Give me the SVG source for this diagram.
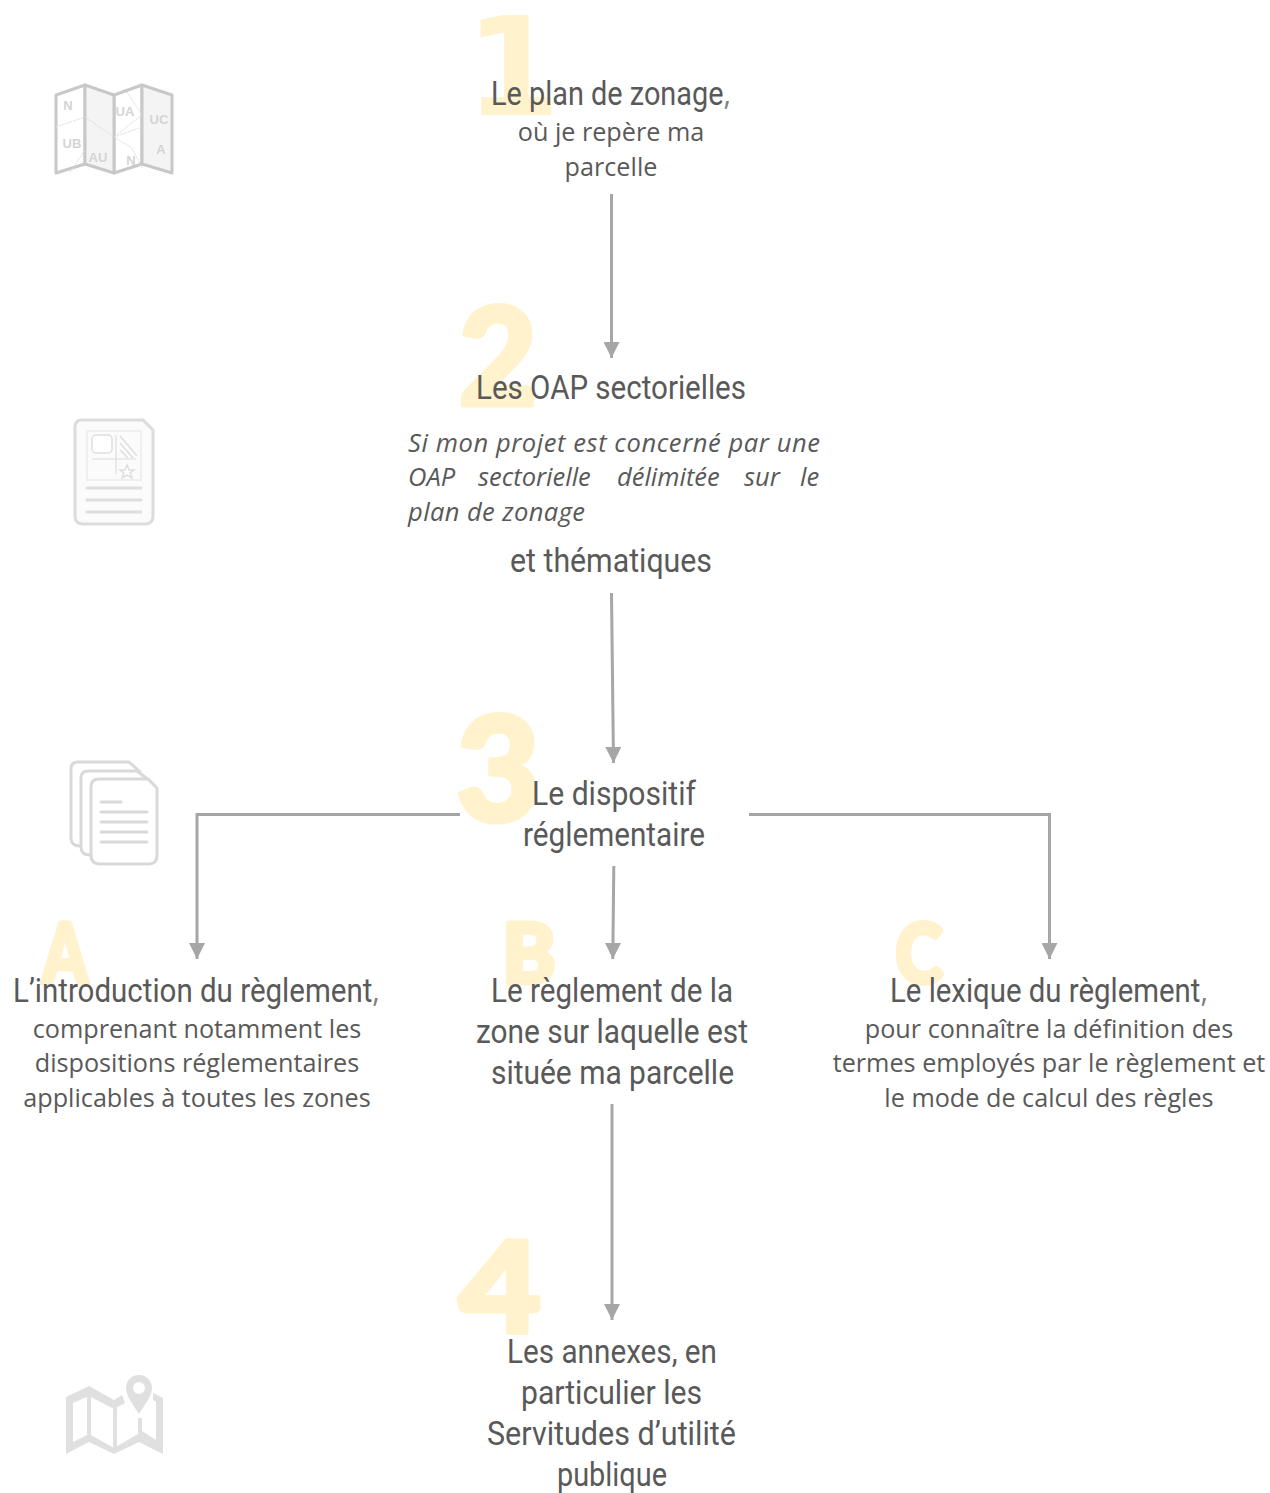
<svg xmlns="http://www.w3.org/2000/svg" width="1270" height="1493" viewBox="0 0 1270 1493">
<defs>
<style>
.h{font-family:"Roboto","Liberation Sans",sans-serif;font-size:33px;fill:#595959}
.cm{font-family:"Open Sans","Liberation Sans",sans-serif;fill:#7F7F7F}
.b{font-family:"Open Sans","Liberation Sans",sans-serif;font-size:25.200px;fill:#595959;text-anchor:middle}
.i{font-family:"Open Sans","Liberation Sans",sans-serif;font-size:25.500px;font-style:italic;fill:#595959}
.n{font-family:"Lato","Open Sans",sans-serif;font-weight:900;fill:#FFF2CC;stroke:#FFF2CC;stroke-width:5px;stroke-linejoin:round}
.m{text-anchor:middle}
.conn{fill:none;stroke:#A6A6A6;stroke-width:3}
.ic{fill:none;stroke:#D9D9D9;stroke-width:3;stroke-linejoin:round;stroke-linecap:round}
.it{font-family:"Liberation Sans",sans-serif;font-weight:700;font-size:13px;fill:#D4D4D4;text-anchor:middle}
</style>
<marker id="arr" markerUnits="userSpaceOnUse" markerWidth="16" markerHeight="16" refX="16" refY="8" orient="auto"><path d="M0 0L16 8L0 16Z" fill="#A6A6A6"/></marker>
</defs>
<rect width="1270" height="1493" fill="#fff"/>
<g id="connectors">
<path class="conn" marker-end="url(#arr)" d="M611.500 194V358"/>
<path class="conn" marker-end="url(#arr)" d="M611.500 593L613.500 763"/>
<path class="conn" marker-end="url(#arr)" d="M460 814.500H197V959"/>
<path class="conn" marker-end="url(#arr)" d="M749 814.500H1049.500V959"/>
<path class="conn" marker-end="url(#arr)" d="M613.800 866L612.800 959"/>
<path class="conn" marker-end="url(#arr)" d="M612 1104V1320"/>
</g>
<g id="icon-plan">
<path d="M56 95L85 85V164L56 173Z M114 95L142 85V164L114 173Z" fill="#fff" stroke="#C8C8C8" stroke-width="3" stroke-linejoin="round"/>
<path d="M85 85L114 95V173L85 164Z M142 85L172 95V173L142 164Z" fill="#F4F4F4" stroke="#C8C8C8" stroke-width="3" stroke-linejoin="round"/>
<path d="M56 127L85 117L114 137L142 127M114 137L132 148L142 168M127 92L142 115L114 137M70 172L85 150" fill="none" stroke="#DDD" stroke-width="1" stroke-dasharray="2 1"/>
<text class="it" x="68" y="110">N</text><text class="it" x="72" y="148">UB</text><text class="it" x="98" y="162">AU</text><text class="it" x="125" y="116">UA</text><text class="it" x="159" y="124">UC</text><text class="it" x="161" y="154">A</text><text class="it" x="131" y="165">N</text>
</g>
<g id="icon-oap">
<path d="M82 420H143L153 430V516Q153 524 145 524H83Q75 524 75 516V427Q75 420 82 420Z" fill="#FBFBFB" stroke="#DCDCDC" stroke-width="3"/>
<rect x="87" y="431" width="54" height="49" fill="none" stroke="#EBEBEB" stroke-width="1.500"/>
<rect x="92" y="435" width="20" height="18" rx="4" fill="#fff" stroke="#DEDEDE" stroke-width="1.500"/>
<path d="M120 436L137 456M120 443L133 458M120 450L128 458" stroke="#DEDEDE" stroke-width="1.500" fill="none"/>
<path d="M92 459H136M116 435V474" stroke="#DEDEDE" stroke-width="1.200" fill="none"/>
<path d="M127 465L129 470L134 470L130 473L132 478L127 475L122 478L124 473L120 470L125 470Z" fill="#fff" stroke="#DEDEDE" stroke-width="1.500"/>
<path d="M87 488H141M87 500H141M87 512H141" stroke="#DEDEDE" stroke-width="3" stroke-linecap="round" fill="none"/>
</g>
<g id="icon-dispositif">
<path class="ic" d="M80 846Q71 846 71 838V769Q71 762 78 762H129L140 772"/>
<path class="ic" d="M90 855Q81 855 81 847V778Q81 771 88 771H137L150 781"/>
<path d="M99 779H148L157 788V855Q157 864 149 864H100Q91 864 91 855V787Q91 779 99 779Z" fill="#fff" stroke="#D9D9D9" stroke-width="3"/>
<path class="ic" d="M101 802H121M101 812H147M101 822H147M101 832H147M101 842H147"/>
</g>
<g id="icon-annexes">
<path d="M66 1397L89 1386L114 1400L122 1395L125 1403L114 1409L89 1396L73 1403V1442L89 1434L114 1448L138 1434V1418H142V1431L156 1440V1402L153 1400V1393L163 1398V1454L139 1442L114 1454L89 1442L66 1454Z" fill="#E0E0E0"/>
<path d="M87 1394H91V1436H87ZM113 1406H117V1448H113Z" fill="#E0E0E0"/>
<path fill-rule="evenodd" d="M139 1375C131 1375 126 1381 126 1388C126 1396 134 1406 139 1414C144 1406 152 1396 152 1388C152 1381 147 1375 139 1375ZM139 1382A6 6 0 1 1 139 1394A6 6 0 1 1 139 1382Z" fill="#E0E0E0"/>
</g>
<g id="node-1">
<text x="513" y="115" font-size="137" text-anchor="middle" font-family="DejaVu Sans, sans-serif" font-weight="700" fill="#FFF2CC">1</text>
<text class="h" x="491" y="105" textLength="240" lengthAdjust="spacingAndGlyphs">Le plan de zonage<tspan class="cm">,</tspan></text>
<text class="b" x="611" y="140.500">où je repère ma</text>
<text class="b" x="611" y="175.500">parcelle</text>
</g>
<g id="node-2">
<text class="n m" x="498" y="405" font-size="135">2</text>
<text class="h" x="476" y="399" textLength="270" lengthAdjust="spacingAndGlyphs">Les OAP sectorielles</text>
<text class="i" x="408" y="452" textLength="412" lengthAdjust="spacing">Si mon projet est concerné par une</text>
<text class="i" y="486"><tspan x="408">OAP</tspan><tspan x="478">sectorielle</tspan><tspan x="617">délimitée</tspan><tspan x="744">sur</tspan><tspan x="800">le</tspan></text>
<text class="i" x="408" y="521" textLength="177" lengthAdjust="spacing">plan de zonage</text>
<text class="h" x="510" y="572" textLength="202" lengthAdjust="spacingAndGlyphs">et thématiques</text>
</g>
<g id="node-3">
<text class="n m" x="498" y="821" font-size="145">3</text>
<text class="h" x="532" y="805" textLength="164" lengthAdjust="spacingAndGlyphs">Le dispositif</text>
<text class="h" x="523" y="846" textLength="182" lengthAdjust="spacingAndGlyphs">réglementaire</text>
</g>
<g id="node-a">
<text class="n" x="42.500" y="983" font-size="82" textLength="45" lengthAdjust="spacingAndGlyphs">A</text>
<text class="h" x="13" y="1001.500" textLength="367" lengthAdjust="spacingAndGlyphs">L’introduction du règlement<tspan class="cm">,</tspan></text>
<text class="b" x="197" y="1037.500">comprenant notamment les</text>
<text class="b" x="197" y="1071.500">dispositions réglementaires</text>
<text class="b" x="197" y="1106.500">applicables à toutes les zones</text>
</g>
<g id="node-b">
<text class="n" x="502.500" y="983" font-size="82" textLength="53" lengthAdjust="spacingAndGlyphs">B</text>
<text class="h" x="491" y="1001.500" textLength="242" lengthAdjust="spacingAndGlyphs">Le règlement de la</text>
<text class="h" x="476" y="1042.500" textLength="272" lengthAdjust="spacingAndGlyphs">zone sur laquelle est</text>
<text class="h" x="491" y="1084" textLength="243" lengthAdjust="spacingAndGlyphs">située ma parcelle</text>
</g>
<g id="node-c">
<text class="n" x="895.500" y="983" font-size="82" textLength="47" lengthAdjust="spacingAndGlyphs">C</text>
<text class="h" x="890" y="1001.500" textLength="318" lengthAdjust="spacingAndGlyphs">Le lexique du règlement<tspan class="cm">,</tspan></text>
<text class="b" x="1049" y="1037.500">pour connaître la définition des</text>
<text class="b" x="1049" y="1071.500">termes employés par le règlement et</text>
<text class="b" x="1049" y="1106.500">le mode de calcul des règles</text>
</g>
<g id="node-4">
<text class="n" x="459" y="1333" font-size="126" textLength="82" lengthAdjust="spacingAndGlyphs">4</text>
<text class="h" x="507" y="1362.500" textLength="210" lengthAdjust="spacingAndGlyphs">Les annexes, en</text>
<text class="h" x="521" y="1403.500" textLength="181" lengthAdjust="spacingAndGlyphs">particulier les</text>
<text class="h" x="487" y="1445" textLength="249" lengthAdjust="spacingAndGlyphs">Servitudes d’utilité</text>
<text class="h" x="557" y="1486" textLength="110" lengthAdjust="spacingAndGlyphs">publique</text>
</g>
</svg>
